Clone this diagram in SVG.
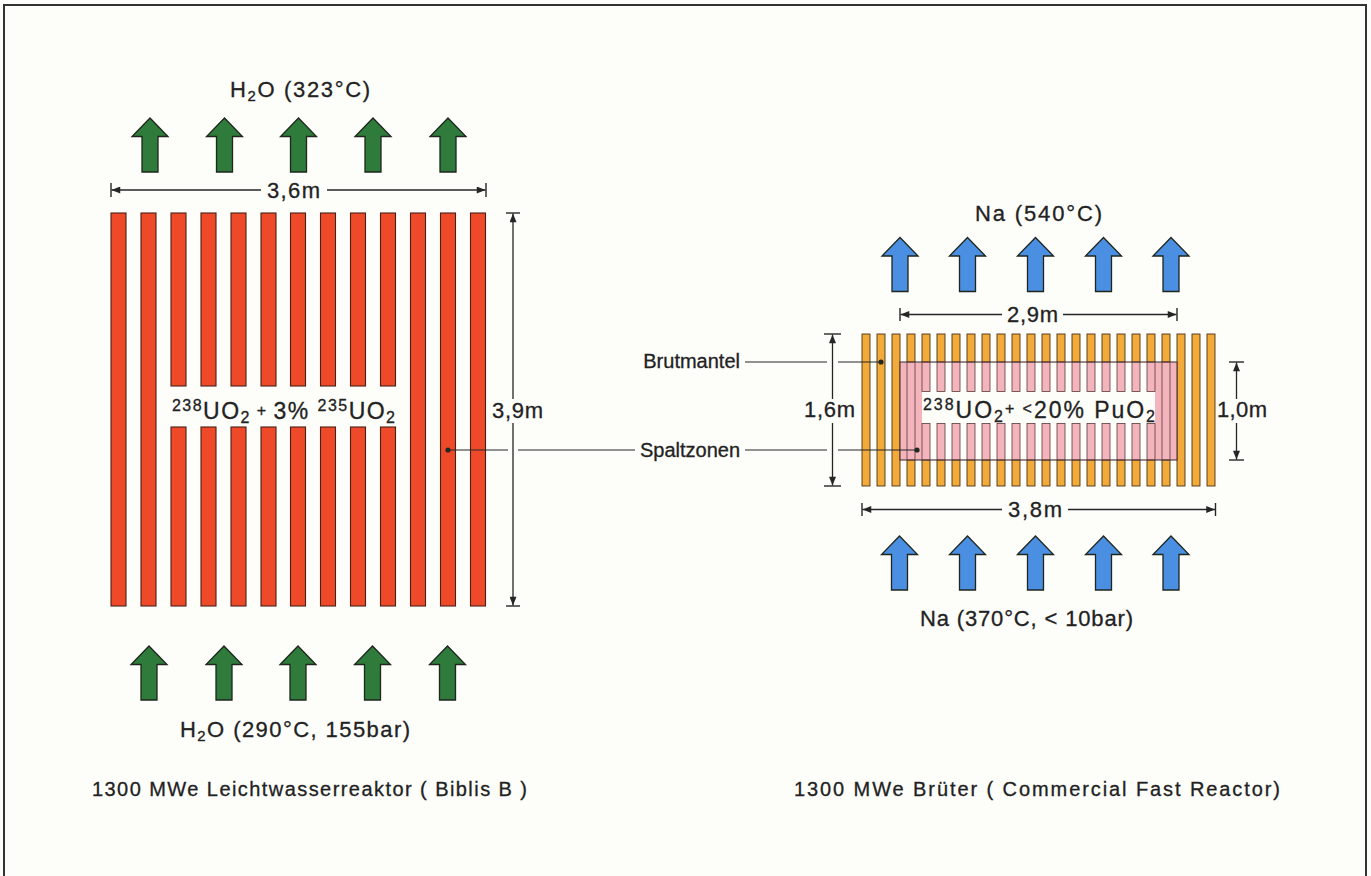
<svg xmlns="http://www.w3.org/2000/svg" xmlns:xlink="http://www.w3.org/1999/xlink" width="1371" height="876" viewBox="0 0 1371 876">
<style>
text{font-family:"Liberation Sans",Arial,sans-serif;fill:#222;stroke:#222;stroke-width:0.3;}
.lbl{font-size:22px;}
.cap{font-size:20px;}
.core{font-size:23px;}
.sm{font-size:15px;}
.sc{font-size:16px;}
.dima{stroke:#262626;stroke-width:1.3;fill:none;marker-end:url(#ah);}
.tick{stroke:#262626;stroke-width:1.4;}
.lead{stroke:#262626;stroke-width:1.2;fill:none;}
.red{fill:#ee4a2a;stroke:#4a1f14;stroke-width:1.1;}
.org{fill:#f2aa3a;stroke:#4a3316;stroke-width:0.9;}
.pnk{fill:#f3b4bc;stroke:#5a3a3a;stroke-width:0.8;}
.g{fill:#2f7b3b;}
.b{fill:#4b8fe2;}
.frame{stroke:#333;stroke-width:2;fill:none;}
</style>
<defs>
<marker id="ah" viewBox="0 0 10 8" refX="10" refY="4" markerWidth="10" markerHeight="7" markerUnits="userSpaceOnUse" orient="auto-start-reverse"><path d="M0,0 L10,4 L0,8 z" fill="#262626"/></marker>
<path id="up" d="M0,0 L18,18.5 L8,18.5 L8,54 L-8,54 L-8,18.5 L-18,18.5 Z" stroke="#1e261e" stroke-width="1.3" stroke-linejoin="miter"/>
</defs>
<rect x="0" y="0" width="1371" height="876" fill="#fdfdfa"/>
<g id="frame">
<path class="frame" d="M4,876 L4,5 L1366,5 L1366,876"/>
</g>

<g id="lwr-rods">
<rect class="red" x="111" y="213" width="15" height="393"/>
<rect class="red" x="141" y="213" width="15" height="393"/>
<rect class="red" x="171" y="213" width="15" height="173"/><rect class="red" x="171" y="427" width="15" height="179"/>
<rect class="red" x="201" y="213" width="15" height="173"/><rect class="red" x="201" y="427" width="15" height="179"/>
<rect class="red" x="231" y="213" width="15" height="173"/><rect class="red" x="231" y="427" width="15" height="179"/>
<rect class="red" x="261" y="213" width="15" height="173"/><rect class="red" x="261" y="427" width="15" height="179"/>
<rect class="red" x="290.5" y="213" width="15" height="173"/><rect class="red" x="290.5" y="427" width="15" height="179"/>
<rect class="red" x="320.5" y="213" width="15" height="173"/><rect class="red" x="320.5" y="427" width="15" height="179"/>
<rect class="red" x="350.5" y="213" width="15" height="173"/><rect class="red" x="350.5" y="427" width="15" height="179"/>
<rect class="red" x="380.5" y="213" width="15" height="173"/><rect class="red" x="380.5" y="427" width="15" height="179"/>
<rect class="red" x="410.5" y="213" width="15" height="393"/>
<rect class="red" x="440.5" y="213" width="15" height="393"/>
<rect class="red" x="470.5" y="213" width="15" height="393"/>
<text class="core" x="172" y="419" textLength="223" lengthAdjust="spacing"><tspan class="sc" dy="-8">238</tspan><tspan dy="8">UO</tspan><tspan class="sc" dy="4">2</tspan><tspan class="sc" dy="-7"> + </tspan><tspan dy="3">3% </tspan><tspan class="sc" dy="-8">235</tspan><tspan dy="8">UO</tspan><tspan class="sc" dy="4">2</tspan></text>
</g>

<g id="lwr-arrows-top">
<use xlink:href="#up" class="g" x="150" y="118"/>
<use xlink:href="#up" class="g" x="224.5" y="118"/>
<use xlink:href="#up" class="g" x="298.5" y="118"/>
<use xlink:href="#up" class="g" x="373" y="118"/>
<use xlink:href="#up" class="g" x="448" y="118"/>
<text class="lbl" x="230" y="97" textLength="140" lengthAdjust="spacing">H<tspan class="sm" dy="4">2</tspan><tspan dy="-4">O (323°C)</tspan></text>
</g>

<g id="lwr-arrows-bottom">
<use xlink:href="#up" class="g" x="149" y="646"/>
<use xlink:href="#up" class="g" x="224" y="646"/>
<use xlink:href="#up" class="g" x="298" y="646"/>
<use xlink:href="#up" class="g" x="372.5" y="646"/>
<use xlink:href="#up" class="g" x="447.5" y="646"/>
<text class="lbl" x="180" y="737" textLength="230" lengthAdjust="spacing">H<tspan class="sm" dy="4">2</tspan><tspan dy="-4">O (290°C, 155bar)</tspan></text>
</g>

<g id="lwr-caption">
<text class="cap" x="92" y="796" textLength="435" lengthAdjust="spacing">1300 MWe Leichtwasserreaktor ( Biblis B )</text>
</g>

<g id="fbr-rods">
<rect class="org" x="862" y="334" width="8" height="152"/>
<rect class="org" x="877" y="334" width="8" height="152"/>
<rect class="org" x="892" y="334" width="8" height="152"/>
<rect class="org" x="907" y="334" width="8" height="152"/>
<rect class="org" x="922" y="334" width="8" height="152"/>
<rect class="org" x="937" y="334" width="8" height="152"/>
<rect class="org" x="952" y="334" width="8" height="152"/>
<rect class="org" x="967" y="334" width="8" height="152"/>
<rect class="org" x="982" y="334" width="8" height="152"/>
<rect class="org" x="997" y="334" width="8" height="152"/>
<rect class="org" x="1012" y="334" width="8" height="152"/>
<rect class="org" x="1027" y="334" width="8" height="152"/>
<rect class="org" x="1042" y="334" width="8" height="152"/>
<rect class="org" x="1057" y="334" width="8" height="152"/>
<rect class="org" x="1072" y="334" width="8" height="152"/>
<rect class="org" x="1087" y="334" width="8" height="152"/>
<rect class="org" x="1102" y="334" width="8" height="152"/>
<rect class="org" x="1117" y="334" width="8" height="152"/>
<rect class="org" x="1132" y="334" width="8" height="152"/>
<rect class="org" x="1147" y="334" width="8" height="152"/>
<rect class="org" x="1162" y="334" width="8" height="152"/>
<rect class="org" x="1177" y="334" width="8" height="152"/>
<rect class="org" x="1192" y="334" width="8" height="152"/>
<rect class="org" x="1207" y="334" width="8" height="152"/>
</g>

<g id="fbr-core">
<rect x="900" y="362" width="277" height="98" fill="#f3b4bc"/>
<rect x="922" y="362.5" width="233" height="97" fill="#fdfdfa"/>
<rect class="pnk" x="907" y="362" width="8" height="98"/>
<rect class="pnk" x="1162" y="362" width="8" height="98"/>
<g id="core-rods-top">
<rect class="pnk" x="922" y="362" width="8" height="29.5"/>
<rect class="pnk" x="937" y="362" width="8" height="29.5"/>
<rect class="pnk" x="952" y="362" width="8" height="29.5"/>
<rect class="pnk" x="967" y="362" width="8" height="29.5"/>
<rect class="pnk" x="982" y="362" width="8" height="29.5"/>
<rect class="pnk" x="997" y="362" width="8" height="29.5"/>
<rect class="pnk" x="1012" y="362" width="8" height="29.5"/>
<rect class="pnk" x="1027" y="362" width="8" height="29.5"/>
<rect class="pnk" x="1042" y="362" width="8" height="29.5"/>
<rect class="pnk" x="1057" y="362" width="8" height="29.5"/>
<rect class="pnk" x="1072" y="362" width="8" height="29.5"/>
<rect class="pnk" x="1087" y="362" width="8" height="29.5"/>
<rect class="pnk" x="1102" y="362" width="8" height="29.5"/>
<rect class="pnk" x="1117" y="362" width="8" height="29.5"/>
<rect class="pnk" x="1132" y="362" width="8" height="29.5"/>
<rect class="pnk" x="1147" y="362" width="8" height="29.5"/>
</g>
<g id="core-rods-bottom">
<rect class="pnk" x="922" y="423.5" width="8" height="36.5"/>
<rect class="pnk" x="937" y="423.5" width="8" height="36.5"/>
<rect class="pnk" x="952" y="423.5" width="8" height="36.5"/>
<rect class="pnk" x="967" y="423.5" width="8" height="36.5"/>
<rect class="pnk" x="982" y="423.5" width="8" height="36.5"/>
<rect class="pnk" x="997" y="423.5" width="8" height="36.5"/>
<rect class="pnk" x="1012" y="423.5" width="8" height="36.5"/>
<rect class="pnk" x="1027" y="423.5" width="8" height="36.5"/>
<rect class="pnk" x="1042" y="423.5" width="8" height="36.5"/>
<rect class="pnk" x="1057" y="423.5" width="8" height="36.5"/>
<rect class="pnk" x="1072" y="423.5" width="8" height="36.5"/>
<rect class="pnk" x="1087" y="423.5" width="8" height="36.5"/>
<rect class="pnk" x="1102" y="423.5" width="8" height="36.5"/>
<rect class="pnk" x="1117" y="423.5" width="8" height="36.5"/>
<rect class="pnk" x="1132" y="423.5" width="8" height="36.5"/>
<rect class="pnk" x="1147" y="423.5" width="8" height="36.5"/>
</g>
<rect x="900" y="362" width="277" height="98" fill="none" stroke="#3a2a2a" stroke-width="1"/>
<text class="core" x="923" y="418" textLength="232" lengthAdjust="spacing"><tspan class="sc" dy="-8">238</tspan><tspan dy="8">UO</tspan><tspan class="sc" dy="4">2</tspan><tspan class="sc" dy="-8">+ &lt;</tspan><tspan dy="4">20% PuO</tspan><tspan class="sc" dy="4">2</tspan></text>
</g>

<g id="fbr-arrows-top">
<use xlink:href="#up" class="b" x="900" y="237.5"/>
<use xlink:href="#up" class="b" x="967.5" y="237.5"/>
<use xlink:href="#up" class="b" x="1035.5" y="237.5"/>
<use xlink:href="#up" class="b" x="1103.5" y="237.5"/>
<use xlink:href="#up" class="b" x="1171" y="237.5"/>
<text class="lbl" x="975" y="221" textLength="127" lengthAdjust="spacing">Na (540°C)</text>
</g>

<g id="fbr-arrows-bottom">
<use xlink:href="#up" class="b" x="899.5" y="536"/>
<use xlink:href="#up" class="b" x="967.5" y="536"/>
<use xlink:href="#up" class="b" x="1035.5" y="536"/>
<use xlink:href="#up" class="b" x="1103.5" y="536"/>
<use xlink:href="#up" class="b" x="1171" y="536"/>
<text class="lbl" x="920" y="626" textLength="213" lengthAdjust="spacing">Na (370°C, &lt; 10bar)</text>
</g>

<g id="fbr-caption">
<text class="cap" x="794" y="796" textLength="486" lengthAdjust="spacing">1300 MWe Brüter ( Commercial Fast Reactor)</text>
</g>

<g id="labels">
<text class="cap" x="740" y="368" text-anchor="end">Brutmantel</text>
<text class="cap" x="740" y="457" text-anchor="end">Spaltzonen</text>
</g>

<g id="connectors">
<line class="tick" x1="111" y1="183" x2="111" y2="197"/>
<line class="tick" x1="486" y1="183" x2="486" y2="197"/>
<line class="dima" x1="261" y1="190" x2="111.5" y2="190"/>
<line class="dima" x1="327" y1="190" x2="485.5" y2="190"/>
<text class="lbl" x="267" y="198" textLength="53" lengthAdjust="spacing">3,6m</text>
<line class="tick" x1="506" y1="213" x2="520" y2="213"/>
<line class="tick" x1="506" y1="606" x2="520" y2="606"/>
<line class="dima" x1="513" y1="399" x2="513" y2="213.5"/>
<line class="dima" x1="513" y1="423" x2="513" y2="605.5"/>
<text class="lbl" x="492" y="418" textLength="51" lengthAdjust="spacing">3,9m</text>
<line class="tick" x1="900" y1="308" x2="900" y2="321"/>
<line class="tick" x1="1177" y1="308" x2="1177" y2="321"/>
<line class="dima" x1="1002" y1="314.5" x2="900.5" y2="314.5"/>
<line class="dima" x1="1063" y1="314.5" x2="1176.5" y2="314.5"/>
<text class="lbl" x="1007" y="322" textLength="51" lengthAdjust="spacing">2,9m</text>
<line class="tick" x1="862" y1="503" x2="862" y2="516"/>
<line class="tick" x1="1215.5" y1="503" x2="1215.5" y2="516"/>
<line class="dima" x1="1002" y1="509.5" x2="862.5" y2="509.5"/>
<line class="dima" x1="1068" y1="509.5" x2="1215" y2="509.5"/>
<text class="lbl" x="1008" y="517" textLength="54" lengthAdjust="spacing">3,8m</text>
<line class="tick" x1="824" y1="334" x2="841" y2="334"/>
<line class="tick" x1="824" y1="486" x2="841" y2="486"/>
<line class="dima" x1="832.5" y1="399" x2="832.5" y2="334.5"/>
<line class="dima" x1="832.5" y1="423" x2="832.5" y2="485.5"/>
<text class="lbl" x="804" y="417" textLength="51" lengthAdjust="spacing">1,6m</text>
<line class="tick" x1="1229" y1="362" x2="1244" y2="362"/>
<line class="tick" x1="1229" y1="460" x2="1244" y2="460"/>
<line class="dima" x1="1236.5" y1="399" x2="1236.5" y2="362.5"/>
<line class="dima" x1="1236.5" y1="423" x2="1236.5" y2="459.5"/>
<text class="lbl" x="1217" y="417" textLength="50" lengthAdjust="spacing">1,0m</text>
<path class="lead" d="M448,450 L508,450 M518,450 L635,450 M745,450 L827,450 M838,450 L917,450"/>
<circle cx="448" cy="450" r="2.6" fill="#262626"/>
<circle cx="917" cy="450" r="2.6" fill="#262626"/>
<path class="lead" d="M745,362 L827,362 M838,362 L881,362"/>
<circle cx="881" cy="362" r="2.6" fill="#262626"/>
</g>
</svg>
